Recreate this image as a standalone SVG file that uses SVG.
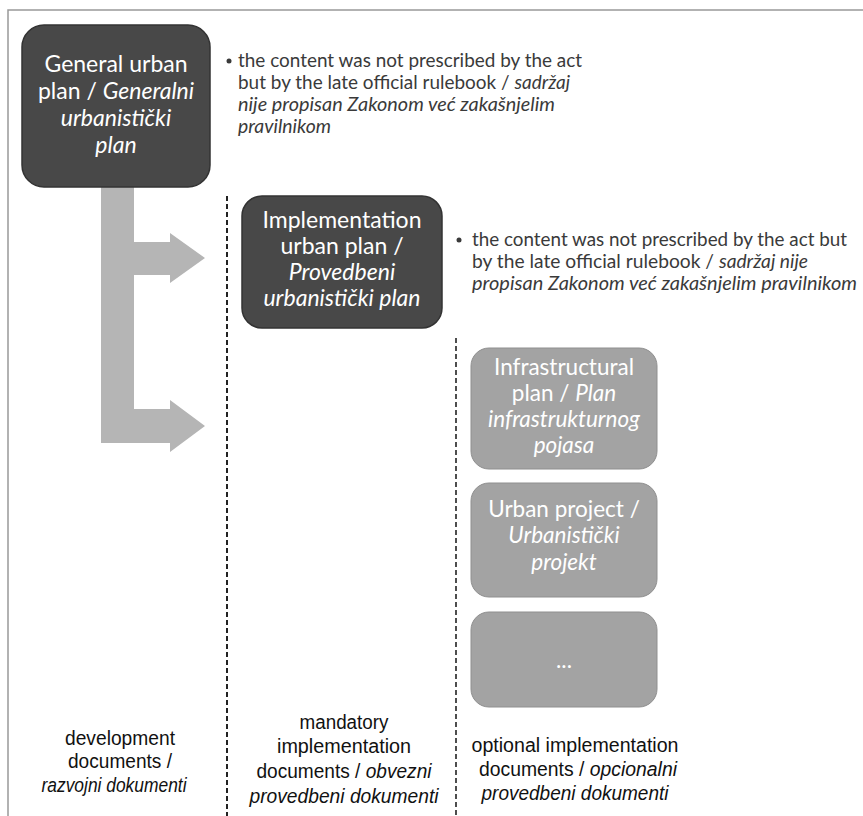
<svg xmlns="http://www.w3.org/2000/svg" width="863" height="816" viewBox="0 0 863 816">
<style>
.dark{fill:#484848;stroke:#333;stroke-width:1.5}
.light{fill:#a3a3a3;stroke:#8f8f8f;stroke-width:1}
.bt{font-family:Lato,"Open Sans","Liberation Sans",sans-serif;font-size:23px;fill:#fff;text-anchor:middle}
.gt{font-family:Lato,"Open Sans","Liberation Sans",sans-serif;font-size:22.5px;fill:#fff;text-anchor:middle}
.note{font-family:Lato,"Open Sans","Liberation Sans",sans-serif;font-size:18.5px;fill:#3a3a3a}
.lab{font-family:"Liberation Sans Narrow","Liberation Sans",sans-serif;font-size:20px;fill:#111;text-anchor:middle}
.i{font-style:italic}
.dash{stroke:#222;fill:none}
</style>
<rect width="863" height="816" fill="#fff"/>
<path d="M8 816 V10 H863" fill="none" stroke="#999" stroke-width="1.5"/>
<g id="connectors">
<path d="M101 187 H134 V242 H170 V233 L205 258 L170 283 V275 H134 V409 H170 V400 L205 426 L170 452 V443 H101 Z" fill="#b5b5b5"/>
<line class="dash" x1="227" y1="196" x2="227" y2="816" stroke-width="2" stroke-dasharray="5 3"/>
<line class="dash" x1="456" y1="338" x2="456" y2="816" stroke-width="1.6" stroke-dasharray="5 3"/>
</g>
<g id="general">
<rect class="dark" x="22" y="25" width="188" height="162" rx="22"/>
<text class="bt" x="116" y="72">General urban</text>
<text class="bt" x="116" y="99">plan / <tspan class="i">Generalni</tspan></text>
<text class="bt i" x="116" y="126">urbanistički</text>
<text class="bt i" x="116" y="153">plan</text>
</g>
<g id="note1">
<circle cx="229" cy="61" r="2.5" fill="#3a3a3a"/>
<text class="note" x="238" y="67" textLength="344" lengthAdjust="spacingAndGlyphs">the content was not prescribed by the act</text>
<text class="note" x="238" y="89" textLength="332" lengthAdjust="spacingAndGlyphs">but by the late official rulebook / <tspan class="i">sadržaj</tspan></text>
<text class="note i" x="238" y="111" textLength="317" lengthAdjust="spacingAndGlyphs">nije propisan Zakonom već zakašnjelim</text>
<text class="note i" x="238" y="133" textLength="93" lengthAdjust="spacingAndGlyphs">pravilnikom</text>
</g>
<g id="implementation">
<rect class="dark" x="242" y="196" width="200" height="132" rx="20"/>
<text class="bt" x="342" y="228">Implementation</text>
<text class="bt" x="342" y="254">urban plan /</text>
<text class="bt i" x="342" y="280">Provedbeni</text>
<text class="bt i" x="342" y="306">urbanistički plan</text>
</g>
<g id="note2">
<circle cx="459" cy="240" r="2.5" fill="#3a3a3a"/>
<text class="note" x="472" y="246" textLength="375" lengthAdjust="spacingAndGlyphs">the content was not prescribed by the act but</text>
<text class="note" x="472" y="268" textLength="336" lengthAdjust="spacingAndGlyphs">by the late official rulebook / <tspan class="i">sadržaj nije</tspan></text>
<text class="note i" x="472" y="290" textLength="385" lengthAdjust="spacingAndGlyphs">propisan Zakonom  već zakašnjelim pravilnikom</text>
</g>
<g id="infrastructural">
<rect class="light" x="471" y="348" width="186" height="121" rx="18"/>
<text class="gt" x="564" y="375">Infrastructural</text>
<text class="gt" x="564" y="401">plan / <tspan class="i">Plan</tspan></text>
<text class="gt i" x="564" y="427">infrastrukturnog</text>
<text class="gt i" x="564" y="453">pojasa</text>
</g>
<g id="urbanproject">
<rect class="light" x="471" y="483" width="186" height="114" rx="18"/>
<text class="gt" x="564" y="517">Urban project /</text>
<text class="gt i" x="564" y="543">Urbanistički</text>
<text class="gt i" x="564" y="570">projekt</text>
</g>
<g id="more">
<rect class="light" x="471" y="612" width="186" height="95" rx="18"/>
<text class="gt" x="564" y="668">...</text>
</g>
<g id="label-development">
<text class="lab" x="120" y="745" textLength="110" lengthAdjust="spacingAndGlyphs">development</text>
<text class="lab" x="120" y="768" textLength="104" lengthAdjust="spacingAndGlyphs">documents /</text>
<text class="lab i" x="114" y="792" textLength="145" lengthAdjust="spacingAndGlyphs">razvojni dokumenti</text>
</g>
<g id="label-mandatory">
<text class="lab" x="344" y="729" textLength="89" lengthAdjust="spacingAndGlyphs">mandatory</text>
<text class="lab" x="344" y="753" textLength="134" lengthAdjust="spacingAndGlyphs">implementation</text>
<text class="lab" x="344" y="778" textLength="175" lengthAdjust="spacingAndGlyphs">documents / <tspan class="i">obvezni</tspan></text>
<text class="lab i" x="344" y="803" textLength="189" lengthAdjust="spacingAndGlyphs">provedbeni dokumenti</text>
</g>
<g id="label-optional">
<text class="lab" x="575" y="752" textLength="207" lengthAdjust="spacingAndGlyphs">optional implementation</text>
<text class="lab" x="578" y="776" textLength="198" lengthAdjust="spacingAndGlyphs">documents / <tspan class="i">opcionalni</tspan></text>
<text class="lab i" x="575" y="800" textLength="187" lengthAdjust="spacingAndGlyphs">provedbeni dokumenti</text>
</g>
</svg>
